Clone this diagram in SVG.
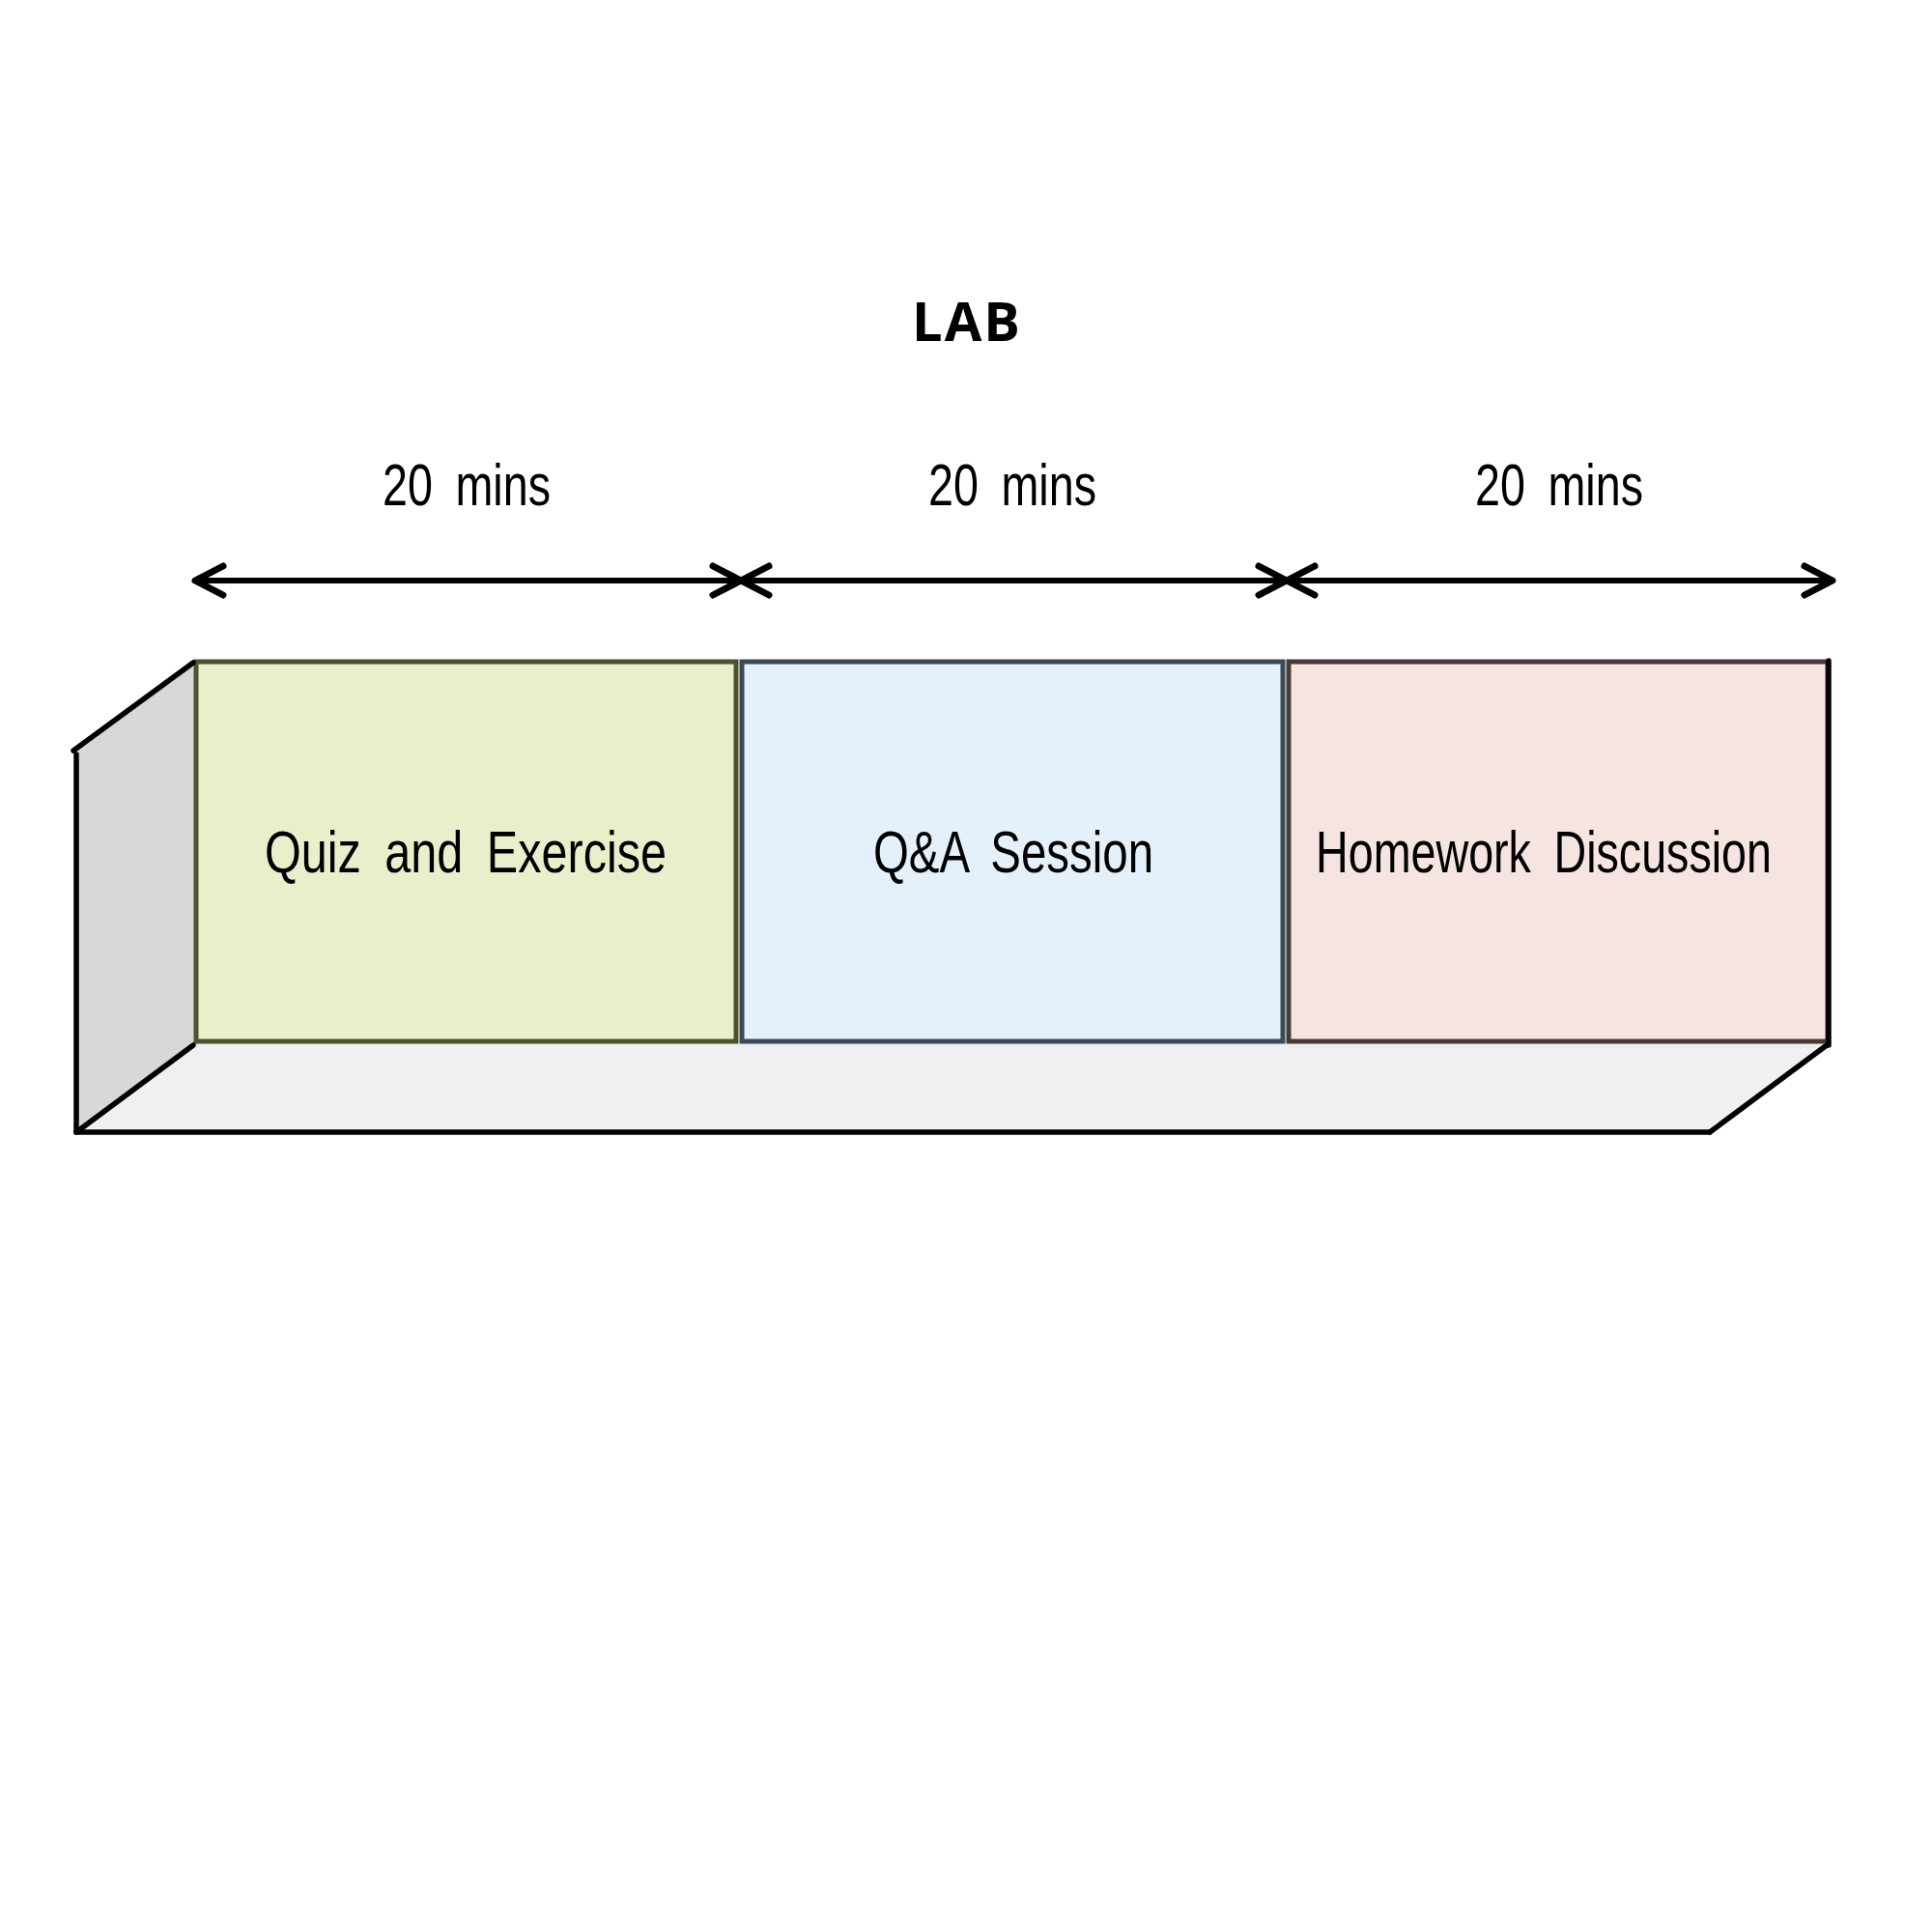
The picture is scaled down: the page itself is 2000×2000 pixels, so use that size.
<svg xmlns="http://www.w3.org/2000/svg" width="2000" height="2000" viewBox="0 0 2000 2000">
  <style>
    .hand { font-family: "Liberation Sans", "DejaVu Sans", sans-serif; font-size: 62px; fill: #000; word-spacing: 14px; }
    .title { font-family: "Open Sans", "Noto Sans", "Liberation Sans", sans-serif; font-size: 56px; font-weight: 700; fill: #000; }
    .edge { stroke: #000; stroke-width: 5.5; stroke-linecap: round; fill: none; }
    .arrow { stroke: #000; stroke-width: 6; stroke-linecap: round; fill: none; marker-start: url(#head); marker-end: url(#head); }
  </style>
  <defs>
    <marker id="head" markerUnits="userSpaceOnUse" viewBox="-40 -20 50 40" refX="0" refY="0" markerWidth="50" markerHeight="40" orient="auto-start-reverse" overflow="visible">
      <path d="M -29 -15 L 0 0 L -29 15" fill="none" stroke="#000" stroke-width="7" stroke-linecap="round" stroke-linejoin="round"/>
    </marker>
  </defs>
  <rect x="0" y="0" width="2000" height="2000" fill="#fff"/>

  <g id="base">
    <polygon points="79,777 201,685 201,1080 79,1172" fill="#d8d8d8"/>
    <polygon points="79,1172 201,1080 1892,1080 1770,1172" fill="#eff0f2"/>
  </g>

  <g id="box-quiz">
    <rect x="203" y="685" width="559" height="393" fill="#e8f0cb" stroke="#4b5230" stroke-width="5"/>
    <text class="hand" x="482" y="903" text-anchor="middle" textLength="416" lengthAdjust="spacingAndGlyphs">Quiz and Exercise</text>
  </g>
  <g id="box-qa">
    <rect x="768" y="685" width="560" height="393" fill="#e4f1fa" stroke="#3b4a55" stroke-width="5"/>
    <text class="hand" x="1049" y="903" text-anchor="middle" textLength="290" lengthAdjust="spacingAndGlyphs">Q&amp;A Session</text>
  </g>
  <g id="box-homework">
    <rect x="1334" y="685" width="558" height="393" fill="#f6e4e1" stroke="#4a3a35" stroke-width="5"/>
    <text class="hand" x="1598" y="903" text-anchor="middle" textLength="472" lengthAdjust="spacingAndGlyphs">Homework Discussion</text>
  </g>

  <g id="outline">
    <line class="edge" x1="79" y1="781" x2="79" y2="1172"/>
    <line class="edge" x1="76" y1="777" x2="200" y2="686"/>
    <line class="edge" x1="79" y1="1172" x2="200" y2="1082"/>
    <line class="edge" x1="79" y1="1172" x2="1770" y2="1172"/>
    <line class="edge" x1="1770" y1="1172" x2="1891" y2="1082"/>
    <line class="edge" x1="1893" y1="684" x2="1893" y2="1082"/>
  </g>

  <g id="title">
    <text class="title" x="1001" y="353" text-anchor="middle" letter-spacing="2">LAB</text>
  </g>

  <g id="durations">
    <text class="hand" x="483" y="523" text-anchor="middle" textLength="174" lengthAdjust="spacingAndGlyphs">20 mins</text>
    <text class="hand" x="1048" y="523" text-anchor="middle" textLength="174" lengthAdjust="spacingAndGlyphs">20 mins</text>
    <text class="hand" x="1614" y="523" text-anchor="middle" textLength="174" lengthAdjust="spacingAndGlyphs">20 mins</text>
  </g>

  <g id="connectors">
    <line class="arrow" x1="202" y1="601" x2="767" y2="601"/>
    <line class="arrow" x1="767" y1="601" x2="1332" y2="601"/>
    <line class="arrow" x1="1332" y1="601" x2="1897" y2="601"/>
  </g>
</svg>
